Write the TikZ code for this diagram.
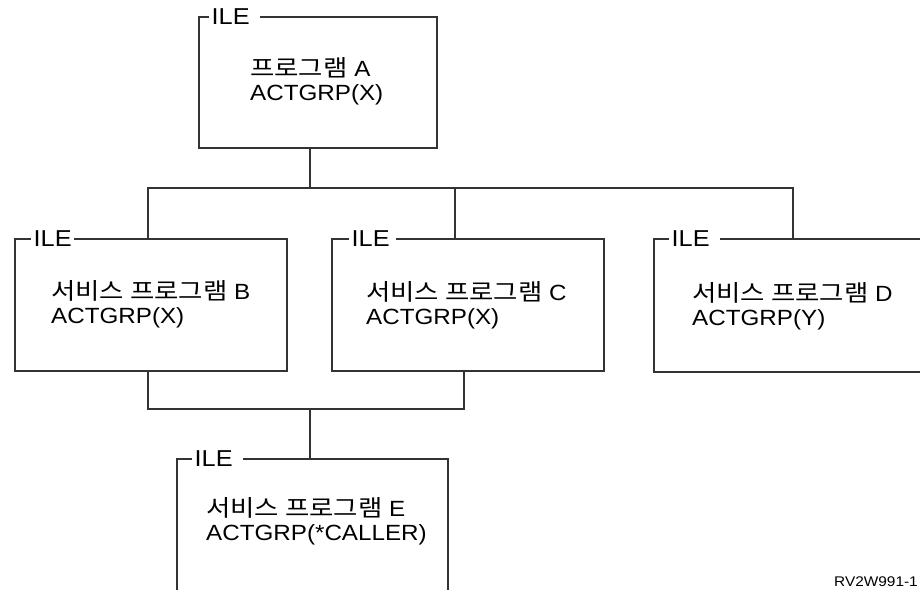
\documentclass[tikz,border=0pt]{standalone}
\usepackage{fontspec}
\setmainfont{Liberation Sans}[FakeStretch=1.1]
\newfontfamily\kr{Noto Sans CJK KR}[FakeStretch=1.15]
\begin{document}
\begin{tikzpicture}[x=1pt,y=-1pt,
  line/.style={draw=black!80, line width=1.1pt},
  ile/.style={fill=white, inner xsep=2.5pt, inner ysep=0pt, anchor=west, font=\fontsize{23}{23}\selectfont},
  lbl/.style={inner sep=0pt, anchor=base west, align=left, font=\fontsize{22}{23.5}\selectfont},
  krt/.style={},
]
\useasboundingbox (0,0) rectangle (921,590);
% box corners
\coordinate (A-nw) at (199,17);  \coordinate (A-se) at (437,148);
\coordinate (B-nw) at (15,239);  \coordinate (B-se) at (287,371);
\coordinate (C-nw) at (332,239); \coordinate (C-se) at (604,371);
% connection points
\coordinate (A-s) at (310,148);
\coordinate (j1) at (310,188);
\coordinate (B-n) at (148,239);
\coordinate (C-n) at (455,239);
\coordinate (D-n) at (793,239);
\coordinate (B-s) at (148,371);
\coordinate (C-s) at (464,371);
\coordinate (j2) at (310,409);
\coordinate (E-n) at (310,459);
% boxes
\draw[line] (A-nw) rectangle (A-se);
\draw[line] (B-nw) rectangle (B-se);
\draw[line] (C-nw) rectangle (C-se);
\draw[line] (920,239) -- (654,239) -- (654,372) -- (920,372);
\draw[line] (177,590) -- (177,459) -- (448,459) -- (448,590);
% connectors
\draw[line] (A-s) -- (j1);
\draw[line] (B-n) -- (B-n |- j1) -- (D-n |- j1) -- (D-n);
\draw[line] (C-n) -- (C-n |- j1);
\draw[line] (B-s) -- (B-s |- j2) -- (C-s |- j2) -- (C-s);
\draw[line] (j2) -- (E-n);
% ILE labels
\node[ile] (A-ile) at (209,17) {ILE\,\,};
\node[ile] (B-ile) at (31,239) {ILE};
\node[ile] (C-ile) at (349,239) {ILE\,};
\node[ile] (D-ile) at (669,239) {ILE\,\,};
\node[ile] (E-ile) at (192,459) {ILE\,\,};
% contents (anchored at the baseline of the last line)
\newcommand{\krs}[1]{{\kr\fontsize{23}{23.5}\selectfont #1}}
\node[lbl] (A-t) at (250,100) {\krs{프로그램} A\\ACTGRP(X)};
\node[lbl] (B-t) at (51,323) {\krs{서비스 프로그램} B\\ACTGRP(X)};
\node[lbl] (C-t) at (366,324) {\krs{서비스 프로그램} C\\ACTGRP(X)};
\node[lbl] (D-t) at (692,325) {\krs{서비스 프로그램} D\\ACTGRP(Y)};
\node[lbl] (E-t) at (206,540) {\krs{서비스 프로그램} E\\ACTGRP(*CALLER)};
\node[inner sep=0pt, anchor=base east, font=\fontsize{14}{14}\selectfont] (ref) at (918,586) {RV2W991-1};
\end{tikzpicture}
\end{document}
